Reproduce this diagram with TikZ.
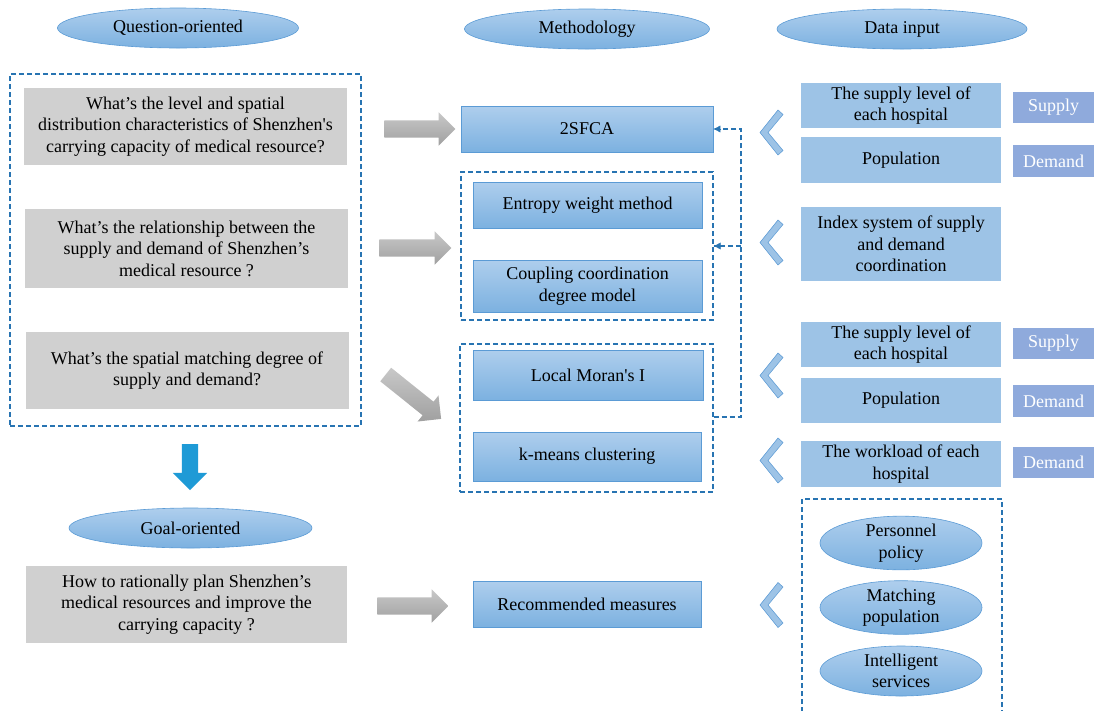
\documentclass[tikz,border=0pt]{standalone}
\usepackage{fontspec}
\setmainfont{Liberation Serif}
\usetikzlibrary{shapes.geometric,shapes.arrows,arrows.meta}

\definecolor{grayq}{RGB}{208,208,208}
\definecolor{btop}{RGB}{174,206,237}
\definecolor{bbot}{RGB}{124,177,224}
\definecolor{bline}{RGB}{91,155,213}
\definecolor{dataf}{RGB}{157,195,230}
\definecolor{tagf}{RGB}{143,170,220}
\definecolor{dashc}{RGB}{40,116,178}
\definecolor{downc}{RGB}{30,154,214}
\definecolor{arrtop}{RGB}{200,200,200}
\definecolor{arrbot}{RGB}{160,160,160}
\definecolor{chevl}{RGB}{100,160,215}

\tikzset{
  txt/.style={font=\fontsize{18}{21.6}\selectfont, align=center, inner sep=0pt},
  question/.style={txt, rectangle, fill=grayq, minimum width=323pt},
  method/.style={txt, rectangle, top color=btop, bottom color=bbot, draw=bline, line width=0.6pt},
  header/.style={txt, ellipse, top color=btop, bottom color=bbot, draw=bline, line width=0.6pt},
  databox/.style={txt, rectangle, fill=dataf, minimum width=200pt},
  tagbox/.style={txt, rectangle, fill=tagf, text=white, minimum width=81pt, minimum height=31pt},
  groupbox/.style={rectangle, draw=dashc, line width=1.1pt, dash pattern=on 5pt off 3pt, inner sep=0pt},
  blockarrow/.style={single arrow, top color=arrtop, bottom color=arrbot, draw=none,
    inner xsep=0pt, inner ysep=8.5pt, single arrow head extend=8pt},
  feed/.style={draw=dashc, line width=1.1pt, dash pattern=on 5pt off 3pt},
  feedtip/.style={-{Latex[length=7pt,width=7pt]}},
  chevron/.pic={
    \filldraw[fill=dataf, draw=chevl, line width=0.6pt]
      (7,-22.5) -- (-11,0) -- (7,22.5) -- (12,18) -- (-3,0) -- (12,-18) -- cycle;
  }
}

\begin{document}
\begin{tikzpicture}[x=1pt,y=-1pt]
\useasboundingbox (0,0) rectangle (1094,710);

% column headers
\node[header, minimum width=241pt, minimum height=40pt] (hq) at (178,28) {Question-oriented};
\node[header, minimum width=245pt, minimum height=40pt] (hm) at (587,29) {Methodology};
\node[header, minimum width=250pt, minimum height=40pt] (hd) at (902,29) {Data input};

% questions
\node[groupbox, minimum width=351pt, minimum height=352pt] (qgroup) at (185.5,250) {};
\node[question, minimum height=77pt] (q1) at (185.5,126.5)
  {What’s the level and spatial\\distribution characteristics of Shenzhen\textquotesingle s\\carrying capacity of medical resource?};
\node[question, minimum height=79pt] (q2) at (186.5,248.5)
  {What’s the relationship between the\\supply and demand of Shenzhen’s\\medical resource ?};
\node[question, minimum height=77pt] (q3) at (187,370.5)
  {What’s the spatial matching degree of\\supply and demand?};

% from questions to goal
\node[single arrow, fill=downc, draw=none, inner xsep=0pt, inner ysep=8pt, single arrow head extend=9pt,
  minimum height=46pt, rotate=-90] (down) at (190,463) {};
\node[header, minimum width=243pt, minimum height=40pt] (hg) at (190.5,528) {Goal-oriented};
\node[question, minimum width=321pt, minimum height=77pt] (goal) at (186.5,604.5)
  {How to rationally plan Shenzhen’s\\medical resources and improve the\\carrying capacity ?};

% methods
\node[method, minimum width=252pt, minimum height=46pt] (sfca) at (587,129) {2SFCA};
\node[groupbox, minimum width=252pt, minimum height=148pt] (grpB) at (587,246) {};
\node[method, minimum width=229pt, minimum height=46pt] (entropy) at (587.5,205) {Entropy weight method};
\node[method, minimum width=229pt, minimum height=52pt] (coupling) at (587.5,286) {Coupling coordination\\degree model};
\node[groupbox, minimum width=253pt, minimum height=148pt] (grpC) at (586.5,418) {};
\node[method, minimum width=230pt, minimum height=50pt] (moran) at (588,375) {Local Moran\textquotesingle s I};
\node[method, minimum width=228pt, minimum height=49pt] (kmeans) at (587,456.5) {k-means clustering};
\node[method, minimum width=228pt, minimum height=46pt] (measures) at (587,604) {Recommended measures};

% block arrows from questions to methods
\node[blockarrow, minimum height=71pt] (a1) at (415.5,129) {};
\node[blockarrow, minimum height=72pt] (a2) at (411,248) {};
\node[blockarrow, minimum height=71pt, rotate=-38.7] (a3) at (410,394) {};
\node[blockarrow, minimum height=71pt] (a4) at (408.5,606) {};

% feedback from the matching group to the earlier methods
\coordinate (busB) at (741,246);
\coordinate (busC) at (741,417);
\draw[feed] (grpC.east |- busC) -- (busC) |- (sfca.east);
\draw[feed] (busB) -- (busB -| grpB.east);
\draw[dashc, feedtip] ([xshift=8pt]sfca.east) -- (sfca.east);
\draw[dashc, feedtip] ([xshift=8pt]grpB.east |- busB) -- (grpB.east |- busB);

% data inputs
\node[databox, minimum height=45pt] (d1) at (901,105.5) {The supply level of\\each hospital};
\node[databox, minimum height=46pt] (d2) at (901,160) {Population};
\node[databox, minimum height=74pt] (d3) at (901,244) {Index system of supply\\and demand\\coordination};
\node[databox, minimum height=45pt] (d4) at (901,344.5) {The supply level of\\each hospital};
\node[databox, minimum height=45pt] (d5) at (901,400.5) {Population};
\node[databox, minimum height=46pt] (d6) at (901,464) {The workload of each\\hospital};

\node[tagbox] (t1) at (1053.5,107.5) {Supply};
\node[tagbox, minimum height=32pt] (t2) at (1053.5,161) {Demand};
\node[tagbox] (t3) at (1053.5,343.5) {Supply};
\node[tagbox, minimum height=32pt] (t4) at (1053.5,401) {Demand};
\node[tagbox] (t5) at (1053.5,462.5) {Demand};

% chevrons pointing from data to methods
\pic at (771,132.5) {chevron};
\pic at (771,242.5) {chevron};
\pic at (771,375.5) {chevron};
\pic at (771,460.5) {chevron};
\pic at (771,605) {chevron};

% measures
\coordinate (mbl) at (802,712);
\coordinate (mbr) at (1002,712);
\draw[feed] (mbl) |- (902,499) -| (mbr);
\node[header, minimum width=162pt, minimum height=50pt] (e1) at (901,543) {Personnel\\policy};
\node[header, minimum width=162pt, minimum height=50pt] (e2) at (901,607.5) {Matching\\population};
\node[header, minimum width=162pt, minimum height=50pt] (e3) at (901,671) {Intelligent\\services};
\end{tikzpicture}
\end{document}
